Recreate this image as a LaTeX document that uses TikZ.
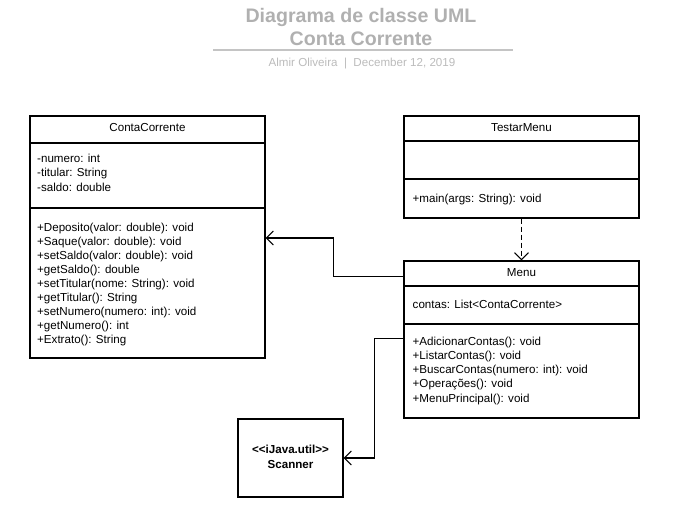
\documentclass[tikz,border=0pt]{standalone}
\usepackage{fontspec}
\setmainfont{Liberation Sans}
\usetikzlibrary{arrows.meta,calc}
\definecolor{titlegray}{HTML}{B0B0B0}
\definecolor{subgray}{HTML}{BBBBBB}
\definecolor{linegray}{HTML}{C4C4C4}
\begin{document}
\begin{tikzpicture}[x=1pt,y=-1pt,
  box/.style={draw=black, line width=1.1pt, fill=white, inner sep=0pt, rectangle},
  sep/.style={draw=black, line width=1.1pt},
  txt/.style={inner sep=0pt, font=\fontsize{11.6}{14}\selectfont, text=black},
  btxt/.style={txt, font=\fontsize{11.6}{14}\selectfont\bfseries},
  arr/.style={draw=black, line width=1.1pt, -{Straight Barb[length=7pt,width=14pt,line width=1.1pt]}},
  dep/.style={arr, dash pattern=on 5pt off 3pt}
]
\useasboundingbox (0,0) rectangle (677,507);

% title
\node[inner sep=0pt, anchor=base, text=titlegray, font=\fontsize{19.6}{23}\selectfont\bfseries] (t1) at (361,22) {Diagrama de classe UML};
\node[inner sep=0pt, anchor=base, text=titlegray, font=\fontsize{19.6}{23}\selectfont\bfseries] (t2) at (361,45) {Conta Corrente};
\coordinate (tl1) at (213,50);
\coordinate (tl2) at (513,50);
\draw[draw=linegray, line width=1.4pt] (tl1) -- (tl2);
\node[inner sep=0pt, anchor=base, text=subgray, font=\fontsize{11.6}{14}\selectfont] (sub) at (362,66) {Almir Oliveira \ | \ December 12, 2019};

% class boxes
\node[box, minimum width=235pt, minimum height=242pt] (cc) at (147.5,237) {};
\node[box, minimum width=235pt, minimum height=102pt] (tm) at (521.5,167) {};
\node[box, minimum width=235pt, minimum height=157pt] (menu) at (521.5,339.5) {};
\node[box, minimum width=105pt, minimum height=78pt] (sc) at (290.5,458) {};

% separators
\draw[sep] (cc.west |- 0,143) -- (cc.east |- 0,143);
\draw[sep] (cc.west |- 0,208) -- (cc.east |- 0,208);
\draw[sep] (tm.west |- 0,141) -- (tm.east |- 0,141);
\draw[sep] (tm.west |- 0,179) -- (tm.east |- 0,179);
\draw[sep] (menu.west |- 0,286) -- (menu.east |- 0,286);
\draw[sep] (menu.west |- 0,324) -- (menu.east |- 0,324);

% headers
\node[txt, anchor=base] (cch) at (147.5,131) {ContaCorrente};
\node[txt, anchor=base] (tmh) at (521.5,131) {TestarMenu};
\node[txt, anchor=base] (menuh) at (521.5,276) {Menu};

% ContaCorrente attributes
\foreach [count=\i] \t in {{-numero: int},{-titular: String},{-saldo: double}}
  \node[txt, anchor=base west] (cca\i) at (37,{162+14.5*(\i-1)}) {\t};
% ContaCorrente methods
\foreach [count=\i] \t in {{+Deposito(valor: double): void},{+Saque(valor: double): void},{+setSaldo(valor: double): void},{+getSaldo(): double},{+setTitular(nome: String): void},{+getTitular(): String},{+setNumero(numero: int): void},{+getNumero(): int},{+Extrato(): String}}
  \node[txt, anchor=base west] (ccm\i) at (37,{231+14*(\i-1)}) {\t};

% TestarMenu
\node[txt, anchor=base west] (tmm1) at (412.5,202) {+main(args: String): void};

% Menu
\node[txt, anchor=base west] (menua1) at (412.5,308) {contas: List{<}ContaCorrente{>}};
\foreach [count=\i] \t in {{+AdicionarContas(): void},{+ListarContas(): void},{+BuscarContas(numero: int): void},{+Operações(): void},{+MenuPrincipal(): void}}
  \node[txt, anchor=base west] (menum\i) at (412.5,{345+14.25*(\i-1)}) {\t};

% Scanner
\node[btxt, anchor=base] (sc1) at (290.5,453) {\mbox{<}\mbox{<}iJava.util\mbox{>}\mbox{>}};
\node[btxt, anchor=base] (sc2) at (290.5,468) {Scanner};

% connectors
\draw[dep] (tm.south) -- (menu.north);
\draw[arr] ($(menu.north west)+(0,16)$) -- ++(-70,0) |- (cc.east |- 0,238);
\draw[arr] ($(menu.north west)+(0,78)$) -- ++(-29,0) |- (sc.east);
\end{tikzpicture}
\end{document}
